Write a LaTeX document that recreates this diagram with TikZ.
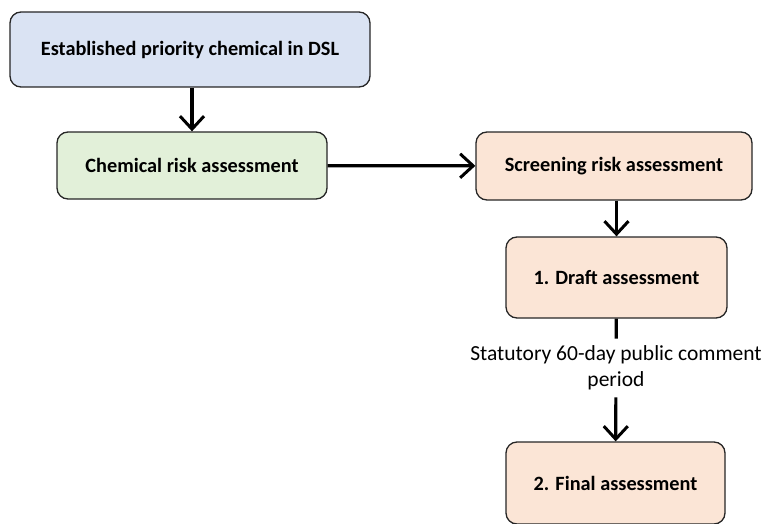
\documentclass[tikz,border=0pt]{standalone}
\usepackage{fontspec}
\setmainfont{Carlito}
\usetikzlibrary{arrows.meta,positioning}
\definecolor{dslblue}{HTML}{DAE3F3}
\definecolor{cragreen}{HTML}{E2F0D9}
\definecolor{sraorange}{HTML}{FBE5D6}
\tikzset{
  stepbox/.style={draw=black!85,line width=1.3pt,rounded corners=11pt,align=center,
    font=\fontsize{20.3}{24}\selectfont\bfseries,inner sep=0pt},
  flow/.style={line width=3.2pt,-{Straight Barb[length=13pt,width=24pt,line width=3pt]}}
}
\begin{document}
\begin{tikzpicture}[x=1pt,y=-1pt]
\useasboundingbox (0,0) rectangle (765,524);
\node[stepbox,fill=dslblue,minimum width=360pt,minimum height=75pt] (dsl) at (190,49.5) {Established priority chemical in DSL};
\node[stepbox,fill=cragreen,minimum width=270pt,minimum height=67pt] (cra) at (192,165.5) {Chemical risk assessment};
\node[stepbox,fill=sraorange,minimum width=276pt,minimum height=68pt] (sra) at (614,166) {Screening risk assessment};
\node[stepbox,fill=sraorange,minimum width=221pt,minimum height=81pt] (draft) at (616.5,277.5) {1. Draft assessment};
\node[align=center,font=\fontsize{21.5}{26}\selectfont,inner xsep=2pt,inner ysep=7pt] (period) at (616,368) {Statutory 60-day public comment\\period};
\node[stepbox,fill=sraorange,minimum width=219pt,minimum height=82pt] (final) at (615.5,483) {2. Final assessment};
% connectors
\draw[flow] (dsl.south -| cra.north) -- (cra.north);
\draw[flow] (cra) -- (sra);
\draw[flow] (sra.south -| draft.north) -- (draft.north);
\draw[line width=3.2pt] (draft) -- (period);
\draw[flow] (period) -- (final);
\end{tikzpicture}
\end{document}
